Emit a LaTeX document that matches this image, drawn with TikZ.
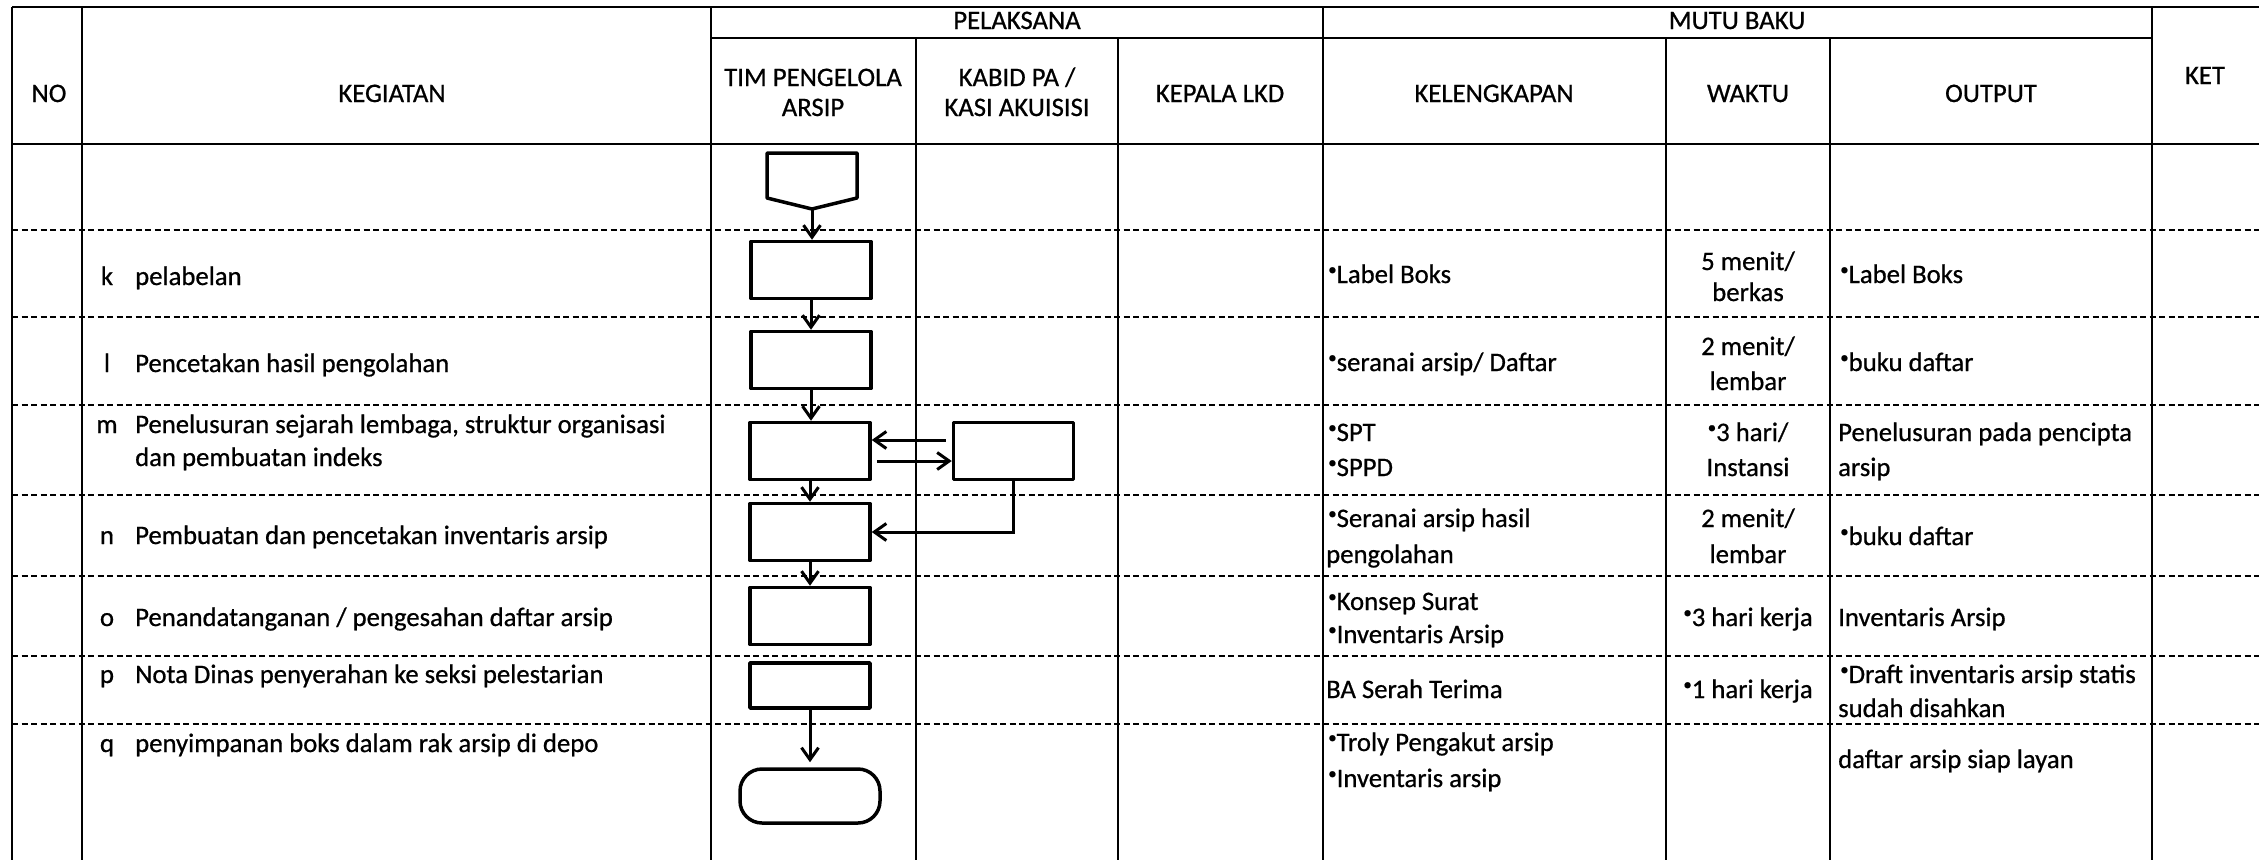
\documentclass[tikz,border=0pt]{standalone}
\usepackage{fontspec}
\setmainfont{Carlito}[FakeBold=0.7]
\usetikzlibrary{arrows.meta}
% small raised bullet used in the list cells
\newcommand\bul{\raisebox{0.30em}{\fontsize{17}{17}\selectfont •}}

\begin{document}
\begin{tikzpicture}[x=1pt,y=-1pt,
  grid/.style={line width=2pt},
  rowsep/.style={line width=2pt,dash pattern=on 6pt off 3.5pt},
  stepbox/.style={draw,line width=3.5pt,line join=round,minimum width=120pt,minimum height=57pt,inner sep=0pt},
  endbox/.style={draw,line width=3.5pt,rounded corners=22pt,minimum width=140pt,minimum height=54pt,inner sep=0pt},
  flow/.style={line width=3pt,-{Straight Barb[length=12pt,width=17pt,line width=3pt]}},
  txt/.style={font=\fontsize{26.7}{30}\selectfont,inner sep=0pt,anchor=base west},
  ctxt/.style={txt,anchor=base}]

\useasboundingbox (0,0) rectangle (2259,860);

% ---- table grid ----
\draw[grid] (12,7) -- (2259,7);
\draw[grid] (711,38) -- (2152,38);
\draw[grid] (12,144) -- (2259,144);
\foreach \x in {12,82,711,1323,2152} \draw[grid] (\x,7) -- (\x,860);
\foreach \x in {916,1118,1666,1830} \draw[grid] (\x,38) -- (\x,860);
\foreach \y in {230,317,405,495,576,656,724} \draw[rowsep] (12,\y) -- (2259,\y);

% ---- header ----
\node[ctxt] (hNo)   at (49,102)   {NO};
\node[ctxt] (hKeg)  at (392,102)  {KEGIATAN};
\node[ctxt] (hPel)  at (1017,29)  {PELAKSANA};
\node[ctxt] (hTimA) at (813,86)   {TIM PENGELOLA};
\node[ctxt] (hTimB) at (813,116)  {ARSIP};
\node[ctxt] (hKabA) at (1017,86)  {KABID PA /};
\node[ctxt] (hKabB) at (1017,116) {KASI AKUISISI};
\node[ctxt] (hKep)  at (1220,102) {KEPALA LKD};
\node[ctxt] (hMutu) at (1737,29)  {MUTU BAKU};
\node[ctxt] (hKel)  at (1494,102) {KELENGKAPAN};
\node[ctxt] (hWak)  at (1748,102) {WAKTU};
\node[ctxt] (hOut)  at (1991,102) {OUTPUT};
\node[ctxt] (hKet)  at (2205,84)  {KET};

% ---- activity column ----
\node[ctxt] (lk) at (107,285) {k};
\node[txt]  (ak) at (135,285) {pelabelan};
\node[ctxt] (ll) at (107,372) {l};
\node[txt]  (al) at (135,372) {Pencetakan hasil pengolahan};
\node[ctxt] (lm) at (107,433) {m};
\node[txt]  (amA) at (135,433) {Penelusuran sejarah lembaga, struktur organisasi};
\node[txt]  (amB) at (135,466) {dan pembuatan indeks};
\node[ctxt] (ln) at (107,544) {n};
\node[txt]  (an) at (135,544) {Pembuatan dan pencetakan inventaris arsip};
\node[ctxt] (lo) at (107,626) {o};
\node[txt]  (ao) at (135,626) {Penandatanganan / pengesahan daftar arsip};
\node[ctxt] (lp) at (107,683) {p};
\node[txt]  (ap) at (135,683) {Nota Dinas penyerahan ke seksi pelestarian};
\node[ctxt] (lq) at (107,752) {q};
\node[txt]  (aq) at (135,752) {penyimpanan boks dalam rak arsip di depo};

% ---- kelengkapan ----
\node[txt] (kk)  at (1328,283) {\bul Label Boks};
\node[txt] (kl)  at (1328,371) {\bul seranai arsip/ Daftar};
\node[txt] (kmA) at (1328,441) {\bul SPT};
\node[txt] (kmB) at (1328,476) {\bul SPPD};
\node[txt] (knA) at (1328,527) {\bul Seranai arsip hasil};
\node[txt] (knB) at (1326,563) {pengolahan};
\node[txt] (koA) at (1328,610) {\bul Konsep Surat};
\node[txt] (koB) at (1328,643) {\bul Inventaris Arsip};
\node[txt] (kp)  at (1326,698) {BA Serah Terima};
\node[txt] (kqA) at (1328,751) {\bul Troly Pengakut arsip};
\node[txt] (kqB) at (1328,787) {\bul Inventaris arsip};

% ---- waktu ----
\node[ctxt] (wkA) at (1748,270) {5 menit/};
\node[ctxt] (wkB) at (1748,301) {berkas};
\node[ctxt] (wlA) at (1748,355) {2 menit/};
\node[ctxt] (wlB) at (1748,390) {lembar};
\node[ctxt] (wmA) at (1748,441) {\bul 3 hari/};
\node[ctxt] (wmB) at (1748,476) {Instansi};
\node[ctxt] (wnA) at (1748,527) {2 menit/};
\node[ctxt] (wnB) at (1748,563) {lembar};
\node[ctxt] (wo)  at (1748,626) {\bul 3 hari kerja};
\node[ctxt] (wp)  at (1748,698) {\bul 1 hari kerja};

% ---- output ----
\node[txt] (ok)  at (1840,283) {\bul Label Boks};
\node[txt] (ol)  at (1840,371) {\bul buku daftar};
\node[txt] (omA) at (1838,441) {Penelusuran pada pencipta};
\node[txt] (omB) at (1838,476) {arsip};
\node[txt] (on)  at (1840,545) {\bul buku daftar};
\node[txt] (oo)  at (1838,626) {Inventaris Arsip};
\node[txt] (opA) at (1840,683) {\bul Draft inventaris arsip statis};
\node[txt] (opB) at (1838,717) {sudah disahkan};
\node[txt] (oq)  at (1838,768) {daftar arsip siap layan};

% ---- flow chart ----
\draw[line width=3.5pt,line join=round]
  (767,153) -- (857,153) -- (857,198) -- (812,209) -- (767,198) -- cycle;
\coordinate (st) at (812,209);

\node[stepbox] (k)  at (811,270)  {};
\node[stepbox] (l)  at (811,360)  {};
\node[stepbox] (m)  at (810,451)  {};
\node[stepbox] (m2) at (1013.5,451) {};
\node[stepbox] (n)  at (810,532)  {};
\node[stepbox] (o)  at (810,616)  {};
\node[stepbox,minimum height=45pt] (p) at (810,685.5) {};
\node[endbox]  (e)  at (810,796)  {};

\draw[flow] (st) -- (st |- k.north);
\draw[flow] (k.south) -- (k.south |- l.north);
\draw[flow] (l.south) -- (l.south |- m.north);
\draw[flow] (m.south) -- (m.south |- n.north);
\draw[flow] (n.south) -- (n.south |- o.north);
\draw[flow] (p.south) -- ([yshift=5pt]e.north);
\draw[flow] ([xshift=-6pt,yshift=11pt]m2.west) -- ([yshift=11pt]m.east);
\draw[flow] ([xshift=5pt,yshift=-10pt]m.east) -- ([yshift=-10pt]m2.west);
\draw[flow] (m2.south) |- (n.east);

\end{tikzpicture}
\end{document}
